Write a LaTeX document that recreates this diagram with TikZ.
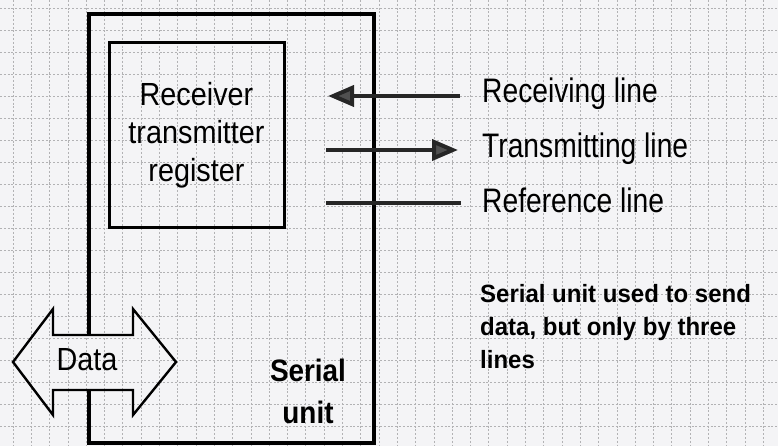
\documentclass[tikz,border=0pt]{standalone}
\usepackage{fontspec}
\setmainfont{Liberation Sans}
% condensed cuts of the same sans face
\newfontfamily\regfont[FakeStretch=0.9]{Liberation Sans}
\newfontfamily\linefont[FakeStretch=0.83]{Liberation Sans}
\newfontfamily\notefont[FakeStretch=0.96]{Liberation Sans}
\usetikzlibrary{arrows.meta}

\definecolor{paper}{RGB}{244,244,246}
\definecolor{gridink}{RGB}{178,178,180}
\definecolor{headfill}{RGB}{80,80,80}

\begin{document}
\begin{tikzpicture}[x=1pt,y=-1pt,
  gridline/.style={gridink, line width=0.7pt, dash pattern=on 2pt off 1.8pt},
  frame/.style={draw=black, line width=3.2pt, line join=miter},
  regbox/.style={draw=black, line width=3pt, minimum width=175pt,
    minimum height=185pt, inner sep=0pt, align=center,
    font=\regfont\fontsize{32}{38}\selectfont},
  wire/.style={draw=black!85, line width=4pt},
  tip/.style={-{Triangle[length=26pt 0 0, width=21pt 0 0, fill=headfill]}},
  bus/.style={draw=black, line width=2.4pt, line join=miter},
  linelabel/.style={anchor=base west, inner sep=0pt,
    font=\linefont\fontsize{34}{40}\selectfont},
  unitlabel/.style={inner sep=0pt, align=center,
    font=\regfont\bfseries\fontsize{31}{42}\selectfont},
  note/.style={anchor=west, inner sep=0pt, align=left,
    font=\notefont\bfseries\fontsize{25}{33}\selectfont},
  datalabel/.style={inner sep=0pt, font=\regfont\fontsize{32}{38}\selectfont}
]
\useasboundingbox (0,0) rectangle (778,446);
\fill[paper] (0,0) rectangle (778,446);

% graph paper
\foreach \k in {0,...,41}
  \draw[gridline] ({13+18.3*\k},0) -- ({13+18.3*\k},446);
\foreach \k in {0,...,20}
  \draw[gridline] (0,{8+22*\k}) -- (778,{8+22*\k});

% serial unit outline, open where the data bus passes through
\draw[frame] (89,335) -- (89,14) -- (374,14) -- (374,443) -- (89,443) -- (89,390);

% register block
\node[regbox] (reg) at (196.5,135.5) {Receiver\\transmitter\\register};

% the three lines
\coordinate (rxOut) at (460,96);
\coordinate (rxIn)  at (328,96);
\coordinate (txIn)  at (326,150);
\coordinate (txOut) at (458,150);
\coordinate (refIn) at (326,203);
\coordinate (refOut) at (461,203);
\draw[wire, tip] (rxOut) -- (rxIn);
\draw[wire, tip] (txIn) -- (txOut);
\draw[wire] (refIn) -- (refOut);

\node[linelabel] (rxlbl)  at (482,103) {Receiving line};
\node[linelabel] (txlbl)  at (482,158) {Transmitting line};
\node[linelabel] (reflbl) at (482,213) {Reference line};

% two-way data bus
\draw[bus] (13,362) -- (53,309) -- (53,335) -- (133,335) -- (133,309)
  -- (176,362) -- (133,415) -- (133,390) -- (53,390) -- (53,415) -- cycle;
\node[datalabel] (data) at (87,360) {Data};

\node[unitlabel] (unit) at (308,391) {Serial\\unit};

\node[note] (remark) at (480,327)
  {Serial unit used to send\\data, but only by three\\lines};
\end{tikzpicture}
\end{document}
